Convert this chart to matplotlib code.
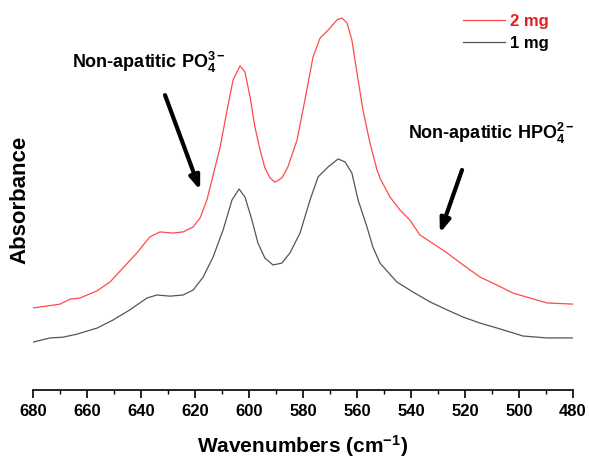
import matplotlib
matplotlib.use("Agg")
import matplotlib.pyplot as plt
from matplotlib.ticker import MultipleLocator

plt.rcParams["font.family"] = ["Liberation Sans", "DejaVu Sans"]
plt.rcParams["font.weight"] = "bold"
plt.rcParams["mathtext.fontset"] = "custom"
plt.rcParams["mathtext.rm"] = "Liberation Sans:bold"
plt.rcParams["mathtext.bf"] = "Liberation Sans:bold"
plt.rcParams["mathtext.it"] = "Liberation Sans:bold"
plt.rcParams["mathtext.default"] = "bf"

# spectra (wavenumber in cm-1, absorbance in arb. units)
wn_2mg = [680.0, 674.8, 670.0, 666.3, 662.6, 656.3, 651.5, 646.7, 641.5, 636.7,
          633.0, 628.1, 624.4, 620.7, 618.1, 615.6, 614.4, 610.7, 608.1, 605.9,
          603.3, 601.5, 599.6, 597.8, 595.9, 594.1, 592.2, 590.4, 587.8, 585.6,
          582.2, 579.3, 576.3, 573.7, 570.7, 567.4, 565.6, 563.7, 561.9, 560.0,
          557.8, 555.2, 552.6, 551.5, 547.8, 544.1, 540.4, 536.7, 526.7, 520.7,
          514.4, 508.1, 502.2, 495.9, 489.6, 480.0]
abs_2mg = [0.216, 0.221, 0.226, 0.239, 0.242, 0.261, 0.284, 0.321, 0.361, 0.403,
           0.416, 0.413, 0.416, 0.429, 0.453, 0.500, 0.534, 0.639, 0.737, 0.816,
           0.853, 0.837, 0.771, 0.692, 0.632, 0.584, 0.558, 0.547, 0.558, 0.587,
           0.658, 0.763, 0.876, 0.926, 0.947, 0.974, 0.979, 0.966, 0.921, 0.834,
           0.737, 0.650, 0.579, 0.558, 0.508, 0.474, 0.447, 0.408, 0.361, 0.329,
           0.297, 0.276, 0.255, 0.242, 0.229, 0.226]

wn_1mg = [680.0, 673.7, 668.9, 663.7, 656.3, 650.4, 644.1, 637.8, 634.1, 629.3,
          624.4, 620.7, 617.0, 613.3, 609.6, 606.3, 603.7, 601.5, 598.9, 596.7,
          594.1, 591.1, 587.8, 584.8, 581.1, 577.4, 574.4, 570.7, 567.0, 564.4,
          561.9, 559.6, 556.3, 554.1, 551.5, 545.2, 539.3, 533.0, 526.7, 520.7,
          514.4, 508.1, 498.5, 489.6, 480.0]
abs_1mg = [0.126, 0.137, 0.139, 0.147, 0.163, 0.184, 0.211, 0.242, 0.250, 0.247,
           0.250, 0.263, 0.297, 0.350, 0.421, 0.500, 0.529, 0.508, 0.447, 0.387,
           0.347, 0.329, 0.334, 0.361, 0.413, 0.500, 0.561, 0.587, 0.608, 0.600,
           0.571, 0.500, 0.429, 0.376, 0.334, 0.284, 0.258, 0.232, 0.211, 0.192,
           0.176, 0.163, 0.142, 0.137, 0.137]

fig = plt.figure(figsize=(5.89, 4.63), dpi=100)
ax = fig.add_axes([33 / 589, 73 / 463, 540 / 589, 380 / 463])

ax.plot(wn_2mg, abs_2mg, color="#ff4a4a", lw=0.9, label="2 mg")
ax.plot(wn_1mg, abs_1mg, color="#555555", lw=0.9, label="1 mg")

ax.set_xlim(680, 480)
ax.set_ylim(0, 1)
ax.xaxis.set_major_locator(MultipleLocator(20))
ax.xaxis.set_minor_locator(MultipleLocator(10))
ax.tick_params(axis="x", which="major", length=6, width=1.2, labelsize=12, pad=4)
ax.tick_params(axis="x", which="minor", length=3, width=1.0)
ax.set_yticks([])
for s in ["left", "right", "top"]:
    ax.spines[s].set_visible(False)
ax.spines["bottom"].set_linewidth(1.2)

ax.set_xlabel(r"Wavenumbers (cm$^{-1}$)", fontsize=15, fontweight="bold", labelpad=10)
ax.set_ylabel("Absorbance", fontsize=16, fontweight="bold", labelpad=2)

arrow = dict(arrowstyle="-|>,head_length=0.8,head_width=0.3", lw=3,
             color="black", shrinkA=0, shrinkB=0)
ax.annotate("", xy=(618.1, 0.526), xytext=(631.1, 0.776), arrowprops=arrow)
ax.annotate("", xy=(529.3, 0.413), xytext=(521.1, 0.579), arrowprops=arrow)

ax.text(665.6, 0.863, r"Non-apatitic PO$_4^{3-}$", fontsize=13,
        fontweight="bold", va="center", ha="left")
ax.text(541.1, 0.676, r"Non-apatitic HPO$_4^{2-}$", fontsize=13,
        fontweight="bold", va="center", ha="left")

leg = ax.legend(loc="upper right", bbox_to_anchor=(560 / 589, 0.996),
                bbox_transform=fig.transFigure, frameon=False, fontsize=12,
                handlelength=2.5, handletextpad=0.3, labelspacing=0.45,
                borderpad=0.2)
leg.get_texts()[0].set_color("#e02020")

fig.savefig("out.png", dpi=100)
